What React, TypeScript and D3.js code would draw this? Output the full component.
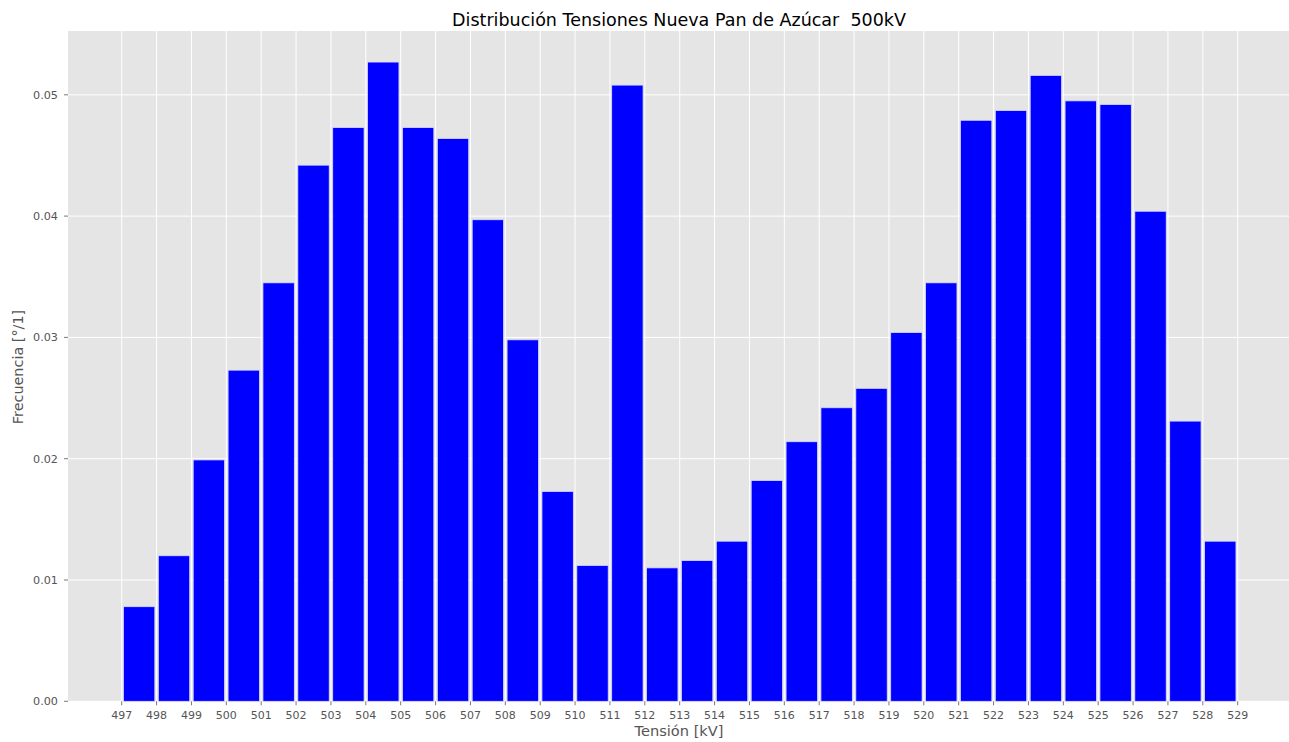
import React from "react";
import * as d3 from "d3";

const binStarts = [497,498,499,500,501,502,503,504,505,506,507,508,509,510,511,512,513,514,515,516,517,518,519,520,521,522,523,524,525,526,527,528];
const frequencies = [0.0078,0.0120,0.0199,0.0273,0.0345,0.0442,0.0473,0.0527,0.0473,0.0464,0.0397,0.0298,0.0173,0.0112,0.0508,0.0110,0.0116,0.0132,0.0182,0.0214,0.0242,0.0258,0.0304,0.0345,0.0479,0.0487,0.0516,0.0495,0.0492,0.0404,0.0231,0.0132];
const xTicks = d3.range(497, 530);
const yTicks = [0, 0.01, 0.02, 0.03, 0.04, 0.05];

const W = 1289, H = 742;
const left = 68, top = 31, bottom = 701.3;
const rwidth = 0.9;

export default function App() {
  const x = d3.scaleLinear().domain([497, 529]).range([121.7, 1237.7]);
  const y = d3.scaleLinear().domain([0, 0.01]).range([bottom, bottom - 121.3]);
  const right = x(530.6);
  const font = "'DejaVu Sans', sans-serif";
  return (
    <svg width={W} height={H} style={{ position: "absolute", left: 0, top: 0 }} fontFamily={font}>
      <rect x={0} y={0} width={W} height={H} fill="#fff" />
      <rect x={left} y={top} width={right - left} height={bottom - top} fill="#e5e5e5" />
      {yTicks.map(t => (
        <line key={"gy" + t} x1={left} x2={right} y1={y(t)} y2={y(t)} stroke="#fff" strokeWidth={1} />
      ))}
      {xTicks.map(t => (
        <line key={"gx" + t} x1={x(t)} x2={x(t)} y1={top} y2={bottom} stroke="#fff" strokeWidth={1} />
      ))}
      {binStarts.map((b, i) => {
        const c = b + 0.5;
        const x1 = x(c - rwidth / 2), x2 = x(c + rwidth / 2);
        return (
          <rect key={b} x={x1} y={y(frequencies[i])} width={x2 - x1} height={bottom - y(frequencies[i])}
            fill="#0000ff" stroke="#d8d8ff" strokeWidth={0.8} />
        );
      })}
      {yTicks.map(t => (
        <g key={"ty" + t}>
          <line x1={left - 4} x2={left} y1={y(t)} y2={y(t)} stroke="#555" strokeWidth={0.8} />
          <text x={58} y={y(t)} dy="0.35em" textAnchor="end" fontSize={11.2} fill="#555">{t.toFixed(2)}</text>
        </g>
      ))}
      {xTicks.map(t => (
        <g key={"tx" + t}>
          <line x1={x(t)} x2={x(t)} y1={bottom} y2={bottom + 4} stroke="#555" strokeWidth={0.8} />
          <text x={x(t)} y={719} textAnchor="middle" fontSize={11} fill="#555">{t}</text>
        </g>
      ))}
      <text x={679} y={26} textAnchor="middle" fontSize={17.5} fill="#000" style={{ whiteSpace: "pre" }}>{"Distribución Tensiones Nueva Pan de Azúcar  500kV"}</text>
      <text x={679} y={736} textAnchor="middle" fontSize={14.6} fill="#555">Tensión [kV]</text>
      <text transform={`translate(23, 367) rotate(-90)`} textAnchor="middle" fontSize={14.4} fill="#555">Frecuencia [°/1]</text>
    </svg>
  );
}
